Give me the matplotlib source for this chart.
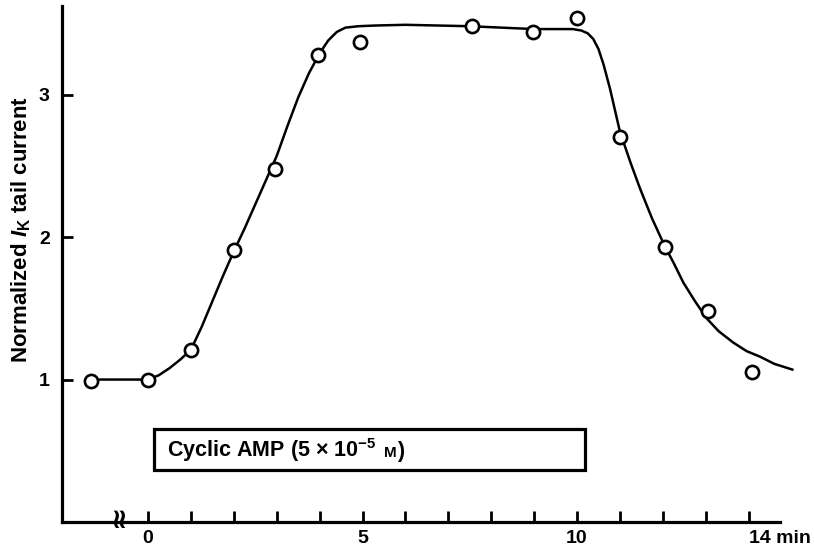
import numpy as np
import matplotlib
matplotlib.use("Agg")
import matplotlib.pyplot as plt
from matplotlib.patches import Rectangle
from matplotlib.offsetbox import TextArea, HPacker, AnnotationBbox

plt.rcParams['font.family'] = ['Liberation Sans', 'DejaVu Sans']
plt.rcParams['font.weight'] = 'bold'
plt.rcParams['mathtext.fontset'] = 'custom'
plt.rcParams['mathtext.rm'] = 'Liberation Sans:bold'
plt.rcParams['mathtext.it'] = 'Liberation Sans:italic:bold'
plt.rcParams['mathtext.bf'] = 'Liberation Sans:bold'

# measured points (min, normalized tail current)
time_min = [-1.34, 0, 1, 2, 2.96, 3.97, 4.94, 7.55, 8.98, 9.99, 11.0, 12.04, 13.06, 14.07]
current = [0.99, 1.0, 1.21, 1.91, 2.48, 3.28, 3.37, 3.48, 3.44, 3.54, 2.70, 1.93, 1.48, 1.05]

# fitted curve
curve_t = [-1.34, -0.5, 0.0, 0.25, 0.5, 0.75, 1.0, 1.25, 1.5, 1.75, 2.0, 2.25, 2.5,
           2.75, 3.0, 3.25, 3.5, 3.75, 4.0, 4.2, 4.4, 4.6, 4.9, 5.3, 6.0, 7.5,
           9.0, 9.9, 10.1, 10.25, 10.38, 10.5, 10.62, 10.77, 11.0, 11.25, 11.47,
           11.75, 12.04, 12.25, 12.48, 12.75, 13.02, 13.3, 13.64, 13.95, 14.27,
           14.6, 15.02]
curve_y = [1.0, 1.0, 1.0, 1.03, 1.08, 1.14, 1.21, 1.37, 1.55, 1.73, 1.90, 2.06, 2.23,
           2.40, 2.57, 2.78, 2.98, 3.15, 3.29, 3.38, 3.44, 3.47, 3.48, 3.485, 3.49, 3.48,
           3.46, 3.46, 3.45, 3.43, 3.39, 3.32, 3.21, 3.04, 2.74, 2.52, 2.34,
           2.13, 1.94, 1.82, 1.68, 1.55, 1.43, 1.34, 1.26, 1.20, 1.16,
           1.11, 1.07]

x_ticks = list(range(0, 15))
x_labels = {0: '0', 5: '5', 10: '10', 14: '14 min'}
y_ticks = [1, 2, 3]

fig = plt.figure(figsize=(8.14, 5.51), dpi=100)
ax = fig.add_axes([0.0765, 0.0526, 0.9064, 0.936])

ax.plot(curve_t, curve_y, color='black', lw=1.8, zorder=2)
ax.plot(time_min, current, 'o', ms=9.5, mfc='white', mec='black', mew=1.9, zorder=3)

# bar showing cAMP application
ax.add_patch(Rectangle((0.15, 0.365), 10.04, 0.29, fill=False, ec='black', lw=2.3))
txt = dict(fontsize=15.5, fontweight='bold')
head = TextArea('Cyclic AMP (5 × 10$^{-5}$', textprops=txt)
unit = HPacker(children=[TextArea('M', textprops=dict(fontsize=11, fontweight='bold')),
                         TextArea(')', textprops=txt)],
               align='baseline', pad=0, sep=0)
label_box = HPacker(children=[head, unit], align='baseline', pad=0, sep=6)
ax.add_artist(AnnotationBbox(label_box, (0.43, 0.505), xycoords='data',
                             box_alignment=(0, 0.5), frameon=False))

ax.set_xlim(-2, 15.2)
ax.set_ylim(0, 3.62)
ax.spines['top'].set_visible(False)
ax.spines['right'].set_visible(False)
for s in ['left', 'bottom']:
    ax.spines[s].set_linewidth(2.3)
ax.spines['bottom'].set_bounds(-2, 14.73)

ax.set_xticks(x_ticks)
ax.set_xticklabels([x_labels.get(t, '') for t in x_ticks])
ax.set_yticks(y_ticks)
ax.tick_params(direction='in', length=8, width=2, labelsize=14)
ax.tick_params(axis='y', pad=9)
ax.tick_params(axis='x', pad=6)
for lab in ax.get_xticklabels() + ax.get_yticklabels():
    lab.set_fontweight('bold')
lab14 = ax.get_xticklabels()[-1]
lab14.set_horizontalalignment('left')
lab14.set_x(14)

# axis break mark
ax.text(-0.7, 0.045, '≈', rotation=90, fontsize=20, ha='center', va='center',
        fontweight='bold', family='DejaVu Sans', clip_on=False)

ax.set_ylabel(r'Normalized $I_\mathrm{K}$ tail current', fontsize=16,
              fontweight='bold')
ax.yaxis.set_label_coords(-0.04, 0.567)

fig.savefig('out.png', dpi=100)
